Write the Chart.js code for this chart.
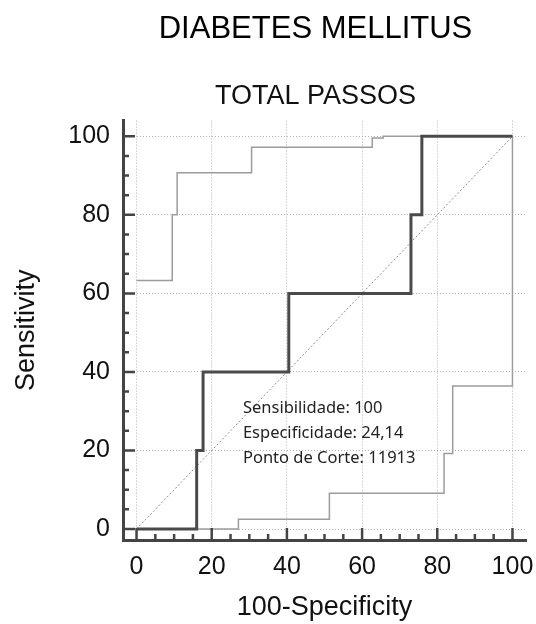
<!DOCTYPE html>
<html>
<head>
<meta charset="utf-8">
<script src="https://cdn.jsdelivr.net/npm/chart.js@4/dist/chart.umd.min.js"></script>
<style>
  html, body { margin: 0; padding: 0; background: #fff; }
  .wrap { width: 536px; height: 624px; }
</style>
</head>
<body>
<div class="wrap"><canvas id="roc"></canvas></div>
<script>
// ROC curve corners (100-Specificity, Sensitivity)
const rocX = [0, 16.0, 17.7, 40.5, 73.0, 75.9, 100];
const rocY = [0, 20, 40, 60, 80, 100, 100];
// upper / lower confidence bounds
const upperX = [0, 9.5, 10.8, 30.6, 62.7, 65.6, 100];
const upperY = [63.3, 80, 90.7, 97.2, 99.6, 100, 100];
const lowerX = [0, 27.1, 51.3, 81.8, 84.1, 100];
const lowerY = [0, 2.5, 9.1, 19.2, 36.4, 100];
// reference diagonal
const diagX = [0, 100];
const diagY = [0, 100];
const tickStep = 20;
const notes = ["Sensibilidade: 100", "Especificidade: 24,14", "Ponto de Corte: 11913"];

const font = "'Liberation Sans', Arial, sans-serif";
const pts = (xs, ys) => xs.map((x, i) => ({ x: x, y: ys[i] }));

// small tick marks drawn inside the plot, as in the original
const innerTicks = {
  id: "innerTicks",
  afterDatasetsDraw(chart) {
    const { ctx, chartArea, scales } = chart;
    ctx.save();
    ctx.strokeStyle = "#444";
    ctx.lineWidth = 2.5;
    ctx.beginPath();
    for (let v = 0; v <= 100; v += 5) {
      const len = v % 20 === 0 ? 12 : 6;
      const px = scales.x.getPixelForValue(v);
      ctx.moveTo(px, chartArea.bottom);
      ctx.lineTo(px, chartArea.bottom - len);
      const py = scales.y.getPixelForValue(v);
      ctx.moveTo(chartArea.left, py);
      ctx.lineTo(chartArea.left + len, py);
    }
    ctx.stroke();
    ctx.restore();
  },
};

const noteText = {
  id: "noteText",
  afterDatasetsDraw(chart, args, opts) {
    const { ctx, scales } = chart;
    const x = scales.x.getPixelForValue(opts.x);
    const y = scales.y.getPixelForValue(opts.y);
    ctx.save();
    ctx.fillStyle = "#222";
    ctx.font = "16.5px 'Noto Sans', sans-serif";
    ctx.textBaseline = "middle";
    notes.forEach((t, i) => ctx.fillText(t, x, y + i * opts.lineGap));
    ctx.restore();
  },
};

// titles sit a little left of the plot centre in the original
const shiftTitles = {
  id: "shiftTitles",
  afterLayout(chart, args, opts) {
    chart.boxes.forEach((b) => {
      if (!b.options || typeof b.options.text !== "string") return;
      b.left += opts.dx;
      b.right += opts.dx;
    });
  },
};

const config = {
  type: "line",
  data: {
    datasets: [
      {
        label: "ROC",
        data: pts(rocX, rocY),
        stepped: "before",
        borderColor: "#4a4a4a",
        borderWidth: 3,
        pointRadius: 0,
        order: 0,
      },
      {
        label: "Upper",
        data: pts(upperX, upperY),
        stepped: "before",
        borderColor: "#9c9c9c",
        borderWidth: 1.5,
        pointRadius: 0,
        order: 1,
      },
      {
        label: "Lower",
        data: pts(lowerX, lowerY),
        stepped: "before",
        borderColor: "#9c9c9c",
        borderWidth: 1.5,
        pointRadius: 0,
        order: 2,
      },
      {
        label: "Diagonal",
        data: pts(diagX, diagY),
        borderColor: "#8f8f8f",
        borderWidth: 1,
        borderDash: [2, 2],
        pointRadius: 0,
        order: 3,
      },
    ],
  },
  options: {
    responsive: true,
    maintainAspectRatio: false,
    animation: false,
    layout: { padding: 0 },
    plugins: {
      legend: { display: false },
      tooltip: { enabled: false },
      title: {
        display: true,
        text: "DIABETES MELLITUS",
        fullSize: false,
        color: "#000",
        font: { family: font, size: 31, weight: "normal" },
        padding: { top: 11, bottom: 32 },
      },
      subtitle: {
        display: true,
        text: "TOTAL PASSOS",
        fullSize: false,
        color: "#111",
        font: { family: font, size: 27, weight: "normal" },
        padding: { top: 0, bottom: 8 },
      },
      noteText: { x: 28.3, y: 30.8, lineGap: 25 },
      shiftTitles: { dx: -9 },
    },
    scales: {
      x: {
        type: "linear",
        min: -3.6,
        max: 103.6,
        afterFit: (scale) => {
          scale.height = 84;
          scale.paddingLeft = 0;
          scale.paddingRight = 10;
        },
        ticks: {
          stepSize: tickStep,
          includeBounds: false,
          color: "#111",
          padding: 12,
          maxRotation: 0,
          font: { family: font, size: 25 },
        },
        grid: { color: "#b3b3b3", lineWidth: 1, drawTicks: false },
        border: { color: "#444", width: 3, dash: [1, 2] },
        title: {
          display: true,
          text: "100-Specificity",
          color: "#111",
          font: { family: font, size: 27 },
          padding: { top: 0, bottom: 0 },
        },
      },
      y: {
        type: "linear",
        min: -2.8,
        max: 104,
        afterFit: (scale) => {
          scale.width = 123;
          scale.paddingTop = 0;
          scale.paddingBottom = 0;
        },
        ticks: {
          stepSize: tickStep,
          includeBounds: false,
          color: "#111",
          padding: 13,
          font: { family: font, size: 25 },
        },
        grid: { color: "#b3b3b3", lineWidth: 1, drawTicks: false },
        border: { color: "#444", width: 3, dash: [1, 2] },
        title: {
          display: true,
          text: "Sensitivity",
          color: "#111",
          font: { family: font, size: 27 },
          padding: { top: 10, bottom: 0 },
        },
      },
    },
  },
  plugins: [innerTicks, noteText, shiftTitles],
};

const myChart = new Chart(document.getElementById("roc"), config);
</script>
</body>
</html>
